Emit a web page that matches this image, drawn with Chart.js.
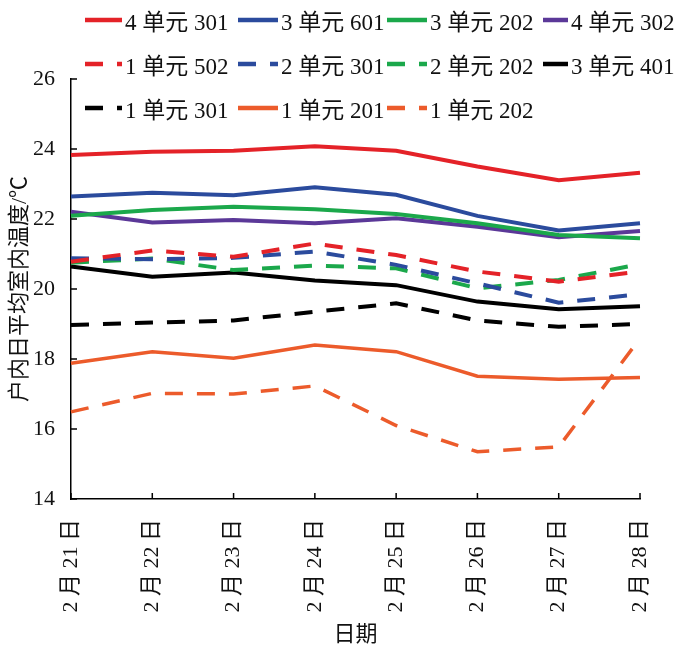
<!DOCTYPE html>
<html lang="zh">
<head>
  <meta charset="UTF-8">
  <title>户内日平均室内温度</title>
  <script src="https://cdn.jsdelivr.net/npm/chart.js"></script>
  <style>
    body {
      margin: 0;
      background: #fff;
    }

    .wrap {
      position: relative;
      width: 691px;
      height: 652px;
    }

    #legend {
      position: absolute;
      left: 85px;
      top: -2px;
      display: grid;
      grid-template-columns: 153px 149px 156px 140px;
      grid-auto-rows: 44px;
      font-family: 'Liberation Serif', 'Noto Sans CJK SC', serif;
      font-size: 23px;
      color: #111;
    }

    #legend .item {
      display: flex;
      align-items: center;
      white-space: nowrap;
    }

    #legend svg {
      flex: none;
      margin-right: 3px;
    }
  </style>
</head>
<body>
  <div class="wrap">
    <canvas id="chart"></canvas>
    <div id="legend"></div>
  </div>

  <script>
    // 日期
    const dates = ['2 月 21 日', '2 月 22 日', '2 月 23 日', '2 月 24 日', '2 月 25 日', '2 月 26 日', '2 月 27 日', '2 月 28 日'];

    // 各户日平均室内温度 (℃)
    const u4_301 = [23.83, 23.92, 23.95, 24.08, 23.95, 23.50, 23.11, 23.32];
    const u3_601 = [22.64, 22.75, 22.68, 22.91, 22.69, 22.09, 21.67, 21.88];
    const u3_202 = [22.09, 22.26, 22.35, 22.28, 22.14, 21.88, 21.54, 21.45];
    const u4_302 = [22.21, 21.90, 21.97, 21.88, 22.02, 21.78, 21.48, 21.66];
    const u1_502 = [20.78, 21.10, 20.92, 21.30, 20.97, 20.50, 20.21, 20.50];
    const u2_301 = [20.88, 20.85, 20.89, 21.07, 20.69, 20.16, 19.61, 19.85];
    const u2_202 = [20.75, 20.87, 20.54, 20.67, 20.59, 20.02, 20.26, 20.71];
    const u3_401 = [20.64, 20.35, 20.47, 20.24, 20.11, 19.64, 19.42, 19.51];
    const u1_301 = [18.97, 19.04, 19.10, 19.35, 19.59, 19.10, 18.92, 19.00];
    const u1_201 = [17.88, 18.21, 18.02, 18.40, 18.21, 17.51, 17.42, 17.47];
    const u1_202 = [16.49, 17.02, 17.00, 17.23, 16.10, 15.35, 15.49, 18.59];

    const yTicks = { min: 14, max: 26, step: 2 };

    const serif = "'Liberation Serif', 'Noto Sans CJK SC', serif";
    const dash = [18, 14];

    function series(label, data, color, dashed, width) {
      return {
        label: label,
        data: data,
        borderColor: color,
        backgroundColor: color,
        borderWidth: width || 4,
        borderDash: dashed ? dash : [],
        borderCapStyle: 'butt',
        pointRadius: 0,
        tension: 0,
        fill: false
      };
    }

    // 刻度线朝内
    const innerTicks = {
      id: 'innerTicks',
      afterDraw(chart) {
        const { ctx, chartArea: a, scales: { x, y } } = chart;
        ctx.save();
        ctx.strokeStyle = '#000';
        ctx.lineWidth = 1.5;
        ctx.beginPath();
        y.ticks.forEach(t => {
          const py = y.getPixelForValue(t.value);
          ctx.moveTo(a.left, py);
          ctx.lineTo(a.left + 6, py);
        });
        x.ticks.forEach((t, i) => {
          const px = x.getPixelForTick(i);
          ctx.moveTo(px, a.bottom);
          ctx.lineTo(px, a.bottom - 6);
        });
        ctx.stroke();
        ctx.restore();
      }
    };

    // 图例用 HTML 生成
    const sampleWidths = [37, 40, 40, 25];
    const htmlLegend = {
      id: 'htmlLegend',
      afterUpdate(chart) {
        const box = document.getElementById('legend');
        box.innerHTML = '';
        const items = Chart.defaults.plugins.legend.labels.generateLabels(chart);
        items.forEach((it, i) => {
          const w = sampleWidths[i % 4];
          const div = document.createElement('div');
          div.className = 'item';
          div.innerHTML =
            `<svg width="${w}" height="10"><line x1="0" y1="5" x2="${w}" y2="5" stroke="${it.strokeStyle}" stroke-width="4.5" stroke-dasharray="${(it.lineDash || []).join(' ')}"/></svg>` +
            `<span>${it.text}</span>`;
          box.appendChild(div);
        });
      }
    };

    new Chart(document.getElementById('chart'), {
      type: 'line',
      data: {
        labels: dates,
        datasets: [
          series('4 单元 301', u4_301, '#e42228'),
          series('3 单元 601', u3_601, '#2b4b9d'),
          series('3 单元 202', u3_202, '#1ba84b'),
          series('4 单元 302', u4_302, '#5b3898'),
          series('1 单元 502', u1_502, '#e42228', true),
          series('2 单元 301', u2_301, '#2b4b9d', true),
          series('2 单元 202', u2_202, '#1ba84b', true),
          series('3 单元 401', u3_401, '#000000'),
          series('1 单元 301', u1_301, '#000000', true),
          series('1 单元 201', u1_201, '#ec5b2b', false, 3.5),
          series('1 单元 202', u1_202, '#ec5b2b', true, 3.5)
        ]
      },
      options: {
        responsive: true,
        maintainAspectRatio: false,
        animation: false,
        layout: { padding: { top: 79, right: 51, left: 0, bottom: 0 } },
        plugins: {
          legend: { display: false },
          tooltip: { enabled: false }
        },
        scales: {
          x: {
            offset: false,
            grid: { display: false },
            border: { display: true, color: '#000', width: 1.5 },
            ticks: {
              autoSkip: false,
              minRotation: 90,
              maxRotation: 90,
              padding: 12,
              color: '#111',
              font: { family: serif, size: 22 }
            },
            title: {
              display: true,
              text: '日期',
              color: '#111',
              font: { family: serif, size: 22 },
              padding: { top: 0, bottom: 4 }
            },
            afterFit(s) { s.height = 153; }
          },
          y: {
            min: yTicks.min,
            max: yTicks.max,
            grid: { display: false },
            border: { display: true, color: '#000', width: 1.5 },
            ticks: {
              stepSize: yTicks.step,
              padding: 8,
              color: '#111',
              font: { family: serif, size: 22 }
            },
            title: {
              display: true,
              text: '户内日平均室内温度/℃',
              color: '#111',
              font: { family: serif, size: 22 },
              padding: { top: 7, bottom: 0 }
            },
            afterFit(s) { s.width = 71; }
          }
        }
      },
      plugins: [innerTicks, htmlLegend]
    });
  </script>
</body>
</html>
